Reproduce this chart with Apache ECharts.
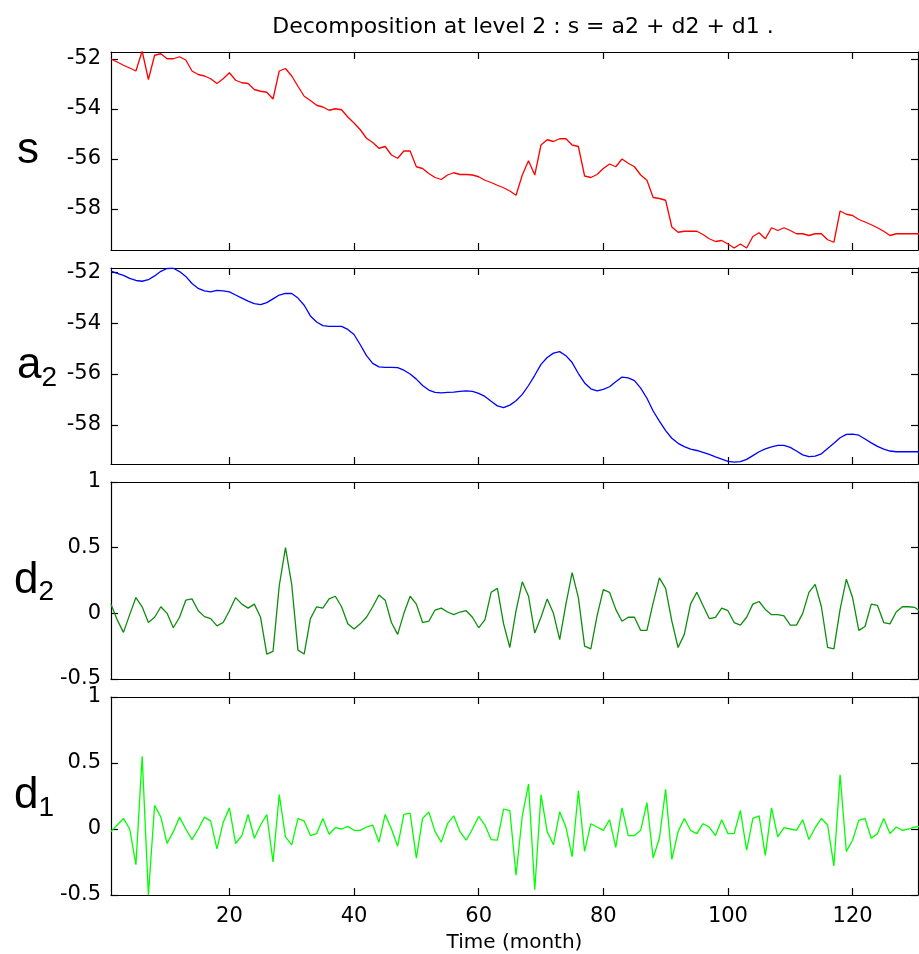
<!DOCTYPE html>
<html>
<head>
<meta charset="utf-8">
<title>Decomposition at level 2</title>
<script src="https://cdn.jsdelivr.net/npm/echarts@6/dist/echarts.min.js"></script>
<style>
html, body { margin: 0; padding: 0; background: #fff; }
#chart { width: 919px; height: 954px; }
</style>
</head>
<body>
<div id="chart"></div>
<script>
// signal s and its level-2 wavelet decomposition, month 1..131
const sValues = [
  -52.00, -52.12, -52.25, -52.36, -52.48, -51.68, -52.82, -51.85, -51.79, -51.99,
  -51.99, -51.91, -52.04, -52.48, -52.62, -52.68, -52.79, -52.98, -52.79, -52.55,
  -52.85, -52.95, -52.98, -53.22, -53.29, -53.33, -53.60, -52.48, -52.38, -52.68,
  -53.09, -53.49, -53.66, -53.85, -53.92, -54.05, -53.99, -54.03, -54.32, -54.56,
  -54.83, -55.17, -55.34, -55.57, -55.50, -55.84, -55.97, -55.68, -55.68, -56.31,
  -56.38, -56.58, -56.74, -56.82, -56.64, -56.55, -56.62, -56.62, -56.64, -56.71,
  -56.85, -56.94, -57.05, -57.15, -57.28, -57.45, -56.64, -56.07, -56.64, -55.44,
  -55.23, -55.30, -55.19, -55.19, -55.44, -55.50, -56.68, -56.74, -56.62, -56.38,
  -56.20, -56.31, -56.00, -56.17, -56.31, -56.64, -56.85, -57.54, -57.58, -57.65,
  -58.72, -58.93, -58.89, -58.89, -58.89, -59.02, -59.19, -59.30, -59.26, -59.40,
  -59.56, -59.40, -59.56, -59.10, -58.95, -59.19, -58.75, -58.86, -58.75, -58.86,
  -58.99, -58.99, -59.06, -58.99, -58.99, -59.23, -59.33, -58.08, -58.21, -58.26,
  -58.42, -58.52, -58.63, -58.75, -58.89, -59.06, -58.99, -58.99, -58.99, -58.99,
  -58.99
];
const a2Values = [
  -51.96, -52.05, -52.13, -52.25, -52.33, -52.36, -52.30, -52.15, -51.97, -51.86,
  -51.85, -51.98, -52.17, -52.45, -52.64, -52.74, -52.78, -52.72, -52.74, -52.78,
  -52.90, -53.02, -53.14, -53.24, -53.28, -53.20, -53.05, -52.90, -52.84, -52.84,
  -53.02, -53.30, -53.72, -53.96, -54.10, -54.13, -54.13, -54.13, -54.25, -54.45,
  -54.85, -55.28, -55.58, -55.72, -55.74, -55.74, -55.75, -55.85, -56.00, -56.20,
  -56.45, -56.63, -56.72, -56.74, -56.72, -56.71, -56.68, -56.66, -56.68, -56.76,
  -56.88, -57.07, -57.25, -57.32, -57.22, -57.05, -56.80, -56.45, -56.05, -55.62,
  -55.35, -55.18, -55.12, -55.28, -55.55, -55.98, -56.35, -56.58, -56.66, -56.60,
  -56.50, -56.30, -56.12, -56.15, -56.26, -56.55, -56.95, -57.45, -57.85, -58.22,
  -58.52, -58.72, -58.85, -58.95, -59.00, -59.07, -59.15, -59.25, -59.34, -59.43,
  -59.46, -59.44, -59.35, -59.20, -59.05, -58.94, -58.86, -58.80, -58.80, -58.88,
  -59.02, -59.17, -59.24, -59.22, -59.13, -58.92, -58.72, -58.50, -58.37, -58.36,
  -58.40, -58.55, -58.70, -58.84, -58.95, -59.02, -59.05, -59.05, -59.05, -59.05,
  -59.05
];
const d2Values = [
  0.07, -0.05, -0.145, -0.01, 0.12, 0.05, -0.07, -0.03, 0.05, 0.00,
  -0.11, -0.03, 0.10, 0.11, 0.02, -0.025, -0.04, -0.095, -0.07, 0.02,
  0.12, 0.07, 0.04, 0.07, -0.03, -0.31, -0.29, 0.21, 0.50, 0.22,
  -0.28, -0.31, -0.04, 0.05, 0.04, 0.11, 0.13, 0.05, -0.08, -0.12,
  -0.08, -0.03, 0.05, 0.14, 0.10, -0.07, -0.16, 0.00, 0.13, 0.07,
  -0.07, -0.06, 0.025, 0.04, 0.01, -0.01, 0.01, 0.02, -0.03, -0.11,
  -0.05, 0.16, 0.19, -0.08, -0.26, 0.02, 0.24, 0.13, -0.15, -0.03,
  0.11, 0.00, -0.20, 0.07, 0.31, 0.12, -0.25, -0.27, -0.02, 0.18,
  0.16, 0.03, -0.06, -0.03, -0.03, -0.13, -0.13, 0.08, 0.27, 0.19,
  -0.06, -0.26, -0.16, 0.07, 0.16, 0.06, -0.04, -0.03, 0.04, 0.02,
  -0.07, -0.09, -0.03, 0.07, 0.09, 0.03, -0.01, -0.01, -0.02, -0.09,
  -0.09, 0.00, 0.16, 0.22, 0.05, -0.26, -0.27, 0.03, 0.26, 0.12,
  -0.13, -0.10, 0.07, 0.06, -0.07, -0.08, 0.01, 0.05, 0.05, 0.045,
  0.01
];
const d1Values = [
  -0.02, 0.03, 0.08, 0.00, -0.27, 0.55, -0.50, 0.18, 0.09, -0.11,
  -0.02, 0.09, 0.00, -0.08, 0.00, 0.09, 0.06, -0.15, 0.05, 0.16,
  -0.11, -0.05, 0.11, -0.07, 0.03, 0.11, -0.25, 0.26, -0.06, -0.12,
  0.08, 0.06, -0.05, -0.035, 0.08, -0.04, 0.01, 0.00, 0.02, -0.01,
  -0.01, 0.015, 0.03, -0.10, 0.11, 0.00, -0.13, 0.11, 0.12, -0.22,
  0.08, 0.13, -0.02, -0.10, 0.04, 0.10, -0.02, -0.085, 0.00, 0.095,
  0.03, -0.08, -0.085, 0.15, 0.14, -0.35, 0.10, 0.34, -0.46, 0.26,
  -0.02, -0.12, 0.13, 0.015, -0.21, 0.29, -0.17, 0.04, 0.015, -0.01,
  0.07, -0.14, 0.16, -0.05, -0.05, -0.01, 0.20, -0.22, -0.07, 0.30,
  -0.23, -0.02, 0.08, -0.01, -0.035, 0.04, 0.015, -0.05, 0.07, -0.035,
  -0.035, 0.14, -0.16, 0.08, 0.10, -0.20, 0.16, -0.06, 0.01, 0.00,
  -0.01, 0.07, -0.08, 0.01, 0.08, 0.03, -0.28, 0.41, -0.17, -0.085,
  0.065, 0.08, -0.07, -0.035, 0.08, -0.035, 0.015, -0.01, 0.00, 0.015,
  0.02
];
const xTicks = [20, 40, 60, 80, 100, 120];
const levelTicks = [-58, -56, -54, -52];
const detailTicks = [-0.5, 0, 0.5, 1];

const tickFont = { fontFamily: 'DejaVu Sans', fontSize: 21, color: '#000' };
const nameRich = {
  b: { fontFamily: 'Liberation Sans', fontSize: 44, color: '#000', lineHeight: 46 },
  sub: { fontFamily: 'Liberation Sans', fontSize: 28, color: '#000', lineHeight: 46, padding: [24, 0, 0, 0] }
};

// one panel = grid + bottom/top x axes + left/right y axes + a line
const panels = [
  { top: 52, height: 198, min: -59.64, max: -51.72, ticks: levelTicks, data: sValues, color: '#ff0000', name: '{b|s}', gap: 72 },
  { top: 268, height: 196, min: -59.53, max: -51.84, ticks: levelTicks, data: a2Values, color: '#0000ff', name: '{b|a}{sub|2}', gap: 54 },
  { top: 482, height: 197, min: -0.5, max: 1, ticks: detailTicks, data: d2Values, color: '#0e8c0e', name: '{b|d}{sub|2}', gap: 57 },
  { top: 697, height: 198, min: -0.5, max: 1, ticks: detailTicks, data: d1Values, color: '#00ff00', name: '{b|d}{sub|1}', gap: 57 }
];

const grid = [], xAxis = [], yAxis = [], series = [];
panels.forEach((p, i) => {
  const last = i === panels.length - 1;
  grid.push({ left: 111, right: 1, top: p.top, height: p.height });
  const xBase = {
    gridIndex: i, type: 'value', min: 1, max: 130.5,
    axisLine: { show: true, onZero: false, lineStyle: { color: '#000', width: 1.2 } },
    axisTick: { show: true, inside: true, length: 7, customValues: xTicks, lineStyle: { color: '#000', width: 1.2 } },
    splitLine: { show: false }
  };
  xAxis.push(Object.assign({}, xBase, {
    position: 'bottom',
    axisLabel: { show: last, customValues: xTicks, margin: 11, ...tickFont },
    name: last ? 'Time (month)' : '',
    nameLocation: 'middle', nameGap: 38,
    nameTextStyle: { fontFamily: 'DejaVu Sans', fontSize: 20, color: '#000' }
  }));
  xAxis.push(Object.assign({}, xBase, { position: 'top', axisLabel: { show: false } }));
  const yBase = {
    gridIndex: i, type: 'value', min: p.min, max: p.max,
    axisLine: { show: true, onZero: false, lineStyle: { color: '#000', width: 1.2 } },
    axisTick: { show: true, inside: true, length: 7, customValues: p.ticks, lineStyle: { color: '#000', width: 1.2 } },
    splitLine: { show: false }
  };
  yAxis.push(Object.assign({}, yBase, {
    position: 'left',
    axisLabel: { show: true, customValues: p.ticks, margin: 10, ...tickFont },
    name: p.name, nameLocation: 'middle', nameRotate: 0, nameGap: p.gap,
    nameTextStyle: { rich: nameRich }
  }));
  yAxis.push(Object.assign({}, yBase, { position: 'right', axisLabel: { show: false } }));
  series.push({
    type: 'line', xAxisIndex: 2 * i, yAxisIndex: 2 * i,
    data: p.data.map((v, k) => [k + 1, v]),
    symbol: 'none', clip: true,
    lineStyle: { color: p.color, width: 1.3 },
    itemStyle: { color: p.color }
  });
});

const chart = echarts.init(document.getElementById('chart'));
chart.setOption({
  animation: false,
  backgroundColor: '#fff',
  title: {
    text: 'Decomposition at level 2 : s = a2 + d2 + d1 .',
    left: 518, top: 11, textAlign: 'center',
    textStyle: { fontFamily: 'DejaVu Sans', fontSize: 22, fontWeight: 'normal', color: '#000' }
  },
  grid, xAxis, yAxis, series
});
</script>
</body>
</html>
